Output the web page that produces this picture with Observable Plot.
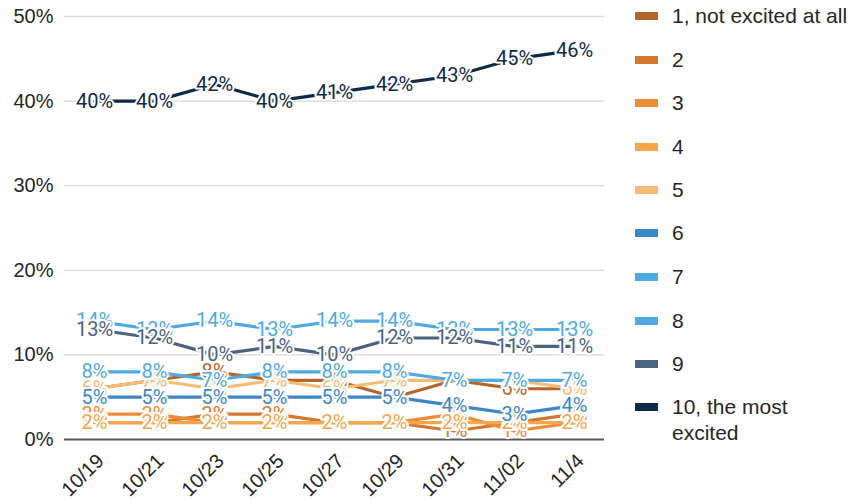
<!DOCTYPE html>
<html>
<head>
<meta charset="utf-8">
<script src="https://cdn.jsdelivr.net/npm/d3@7"></script>
<script src="https://cdn.jsdelivr.net/npm/@observablehq/plot@0.6"></script>
<style>
  body { margin: 0; background: #fff; }
  #wrap { position: relative; width: 855px; height: 501px; font-family: "Liberation Sans", Arial, sans-serif; }
  #legend { position: absolute; left: 0; top: 0; }
  .item { position: absolute; left: 635px; font-size: 21px; color: #262626; line-height: 26px; white-space: nowrap; }
  .sw { position: absolute; left: 0; top: 9px; width: 23px; height: 8px; }
  .lab { position: absolute; left: 37px; top: 0; }
</style>
</head>
<body>
<div id="wrap"><div id="legend"></div></div>
<script>
const dates = ["10/19","10/21","10/23","10/25","10/27","10/29","10/31","11/02","11/4"];
const seriesNames = ["1, not excited at all","2","3","4","5","6","7","8","9","10, the most excited"];
const colors = ["#b5652a","#d4782e","#ee8b36","#f3a64c","#f6bc74","#3a87c9","#4eaae2","#4eaae2","#4a6480","#0e2a47"];
const s1  = [6, 7, 8, 7, 7, 5, 7, 6, 6];
const s2  = [2, 2, 3, 3, 2, 2, 1, 2, 3];
const s3  = [3, 3, 2, 2, 2, 2, 3, 1, 2];
const s4  = [2, 2, 2, 2, 2, 2, 2, 2, 2];
const s5  = [6, 7, 6, 7, 6, 7, 7, 7, 6];
const s6  = [5, 5, 5, 5, 5, 5, 4, 3, 4];
const s7  = [8, 8, 7, 8, 8, 8, 7, 7, 7];
const s8  = [14, 13, 14, 13, 14, 14, 13, 13, 13];
const s9  = [13, 12, 10, 11, 10, 12, 12, 11, 11];
const s10 = [40, 40, 42, 40, 41, 42, 43, 45, 46];
const allSeries = [s1, s2, s3, s4, s5, s6, s7, s8, s9, s10];

const data = [];
allSeries.forEach((vals, i) => {
  vals.forEach((v, j) => data.push({series: seriesNames[i], date: dates[j], value: v}));
});

const colorScale = {domain: seriesNames, range: colors};

const chart = Plot.plot({
  width: 855,
  height: 501,
  marginLeft: 64,
  marginRight: 251,
  marginTop: 16,
  marginBottom: 62,
  style: {fontFamily: "Liberation Sans, Arial, sans-serif", fontSize: "20px", color: "#262626", background: "transparent"},
  x: {type: "point", domain: dates, padding: 0.5, label: null},
  y: {domain: [0, 50], label: null},
  color: colorScale,
  marks: [
    Plot.gridY([10, 20, 30, 40, 50], {stroke: "#d9d9d9", strokeOpacity: 1, strokeWidth: 1.3}),
    Plot.ruleY([0], {stroke: "#595959", strokeWidth: 2}),
    Plot.axisY([0, 10, 20, 30, 40, 50], {tickSize: 0, tickPadding: 11, tickFormat: d => d + "%", fontSize: 20, fill: "#262626", label: null}),
    Plot.axisX({tickSize: 0, tickRotate: -45, tickPadding: 18, dx: 6, fontSize: 20, fill: "#262626", label: null}),
    Plot.line(data, {x: "date", y: "value", z: "series", stroke: "series", strokeWidth: 3.2}),
    Plot.text(data, {x: "date", y: "value", text: d => d.value + "%", fill: "series", stroke: "white", strokeWidth: 4, fontSize: 20, fontFamily: "Roboto, Liberation Sans, sans-serif"})
  ]
});
document.getElementById("wrap").prepend(chart);

const legend = document.getElementById("legend");
const centers = [16, 60, 103, 147, 190, 233, 277, 321, 364, 407];
seriesNames.forEach((name, i) => {
  const it = document.createElement("div");
  it.className = "item";
  it.style.top = (centers[i] - 13) + "px";
  const sw = document.createElement("div");
  sw.className = "sw";
  sw.style.background = colors[i];
  const lab = document.createElement("div");
  lab.className = "lab";
  lab.innerHTML = i === 9 ? "10, the most<br>excited" : name;
  it.appendChild(sw);
  it.appendChild(lab);
  legend.appendChild(it);
});
</script>
</body>
</html>
